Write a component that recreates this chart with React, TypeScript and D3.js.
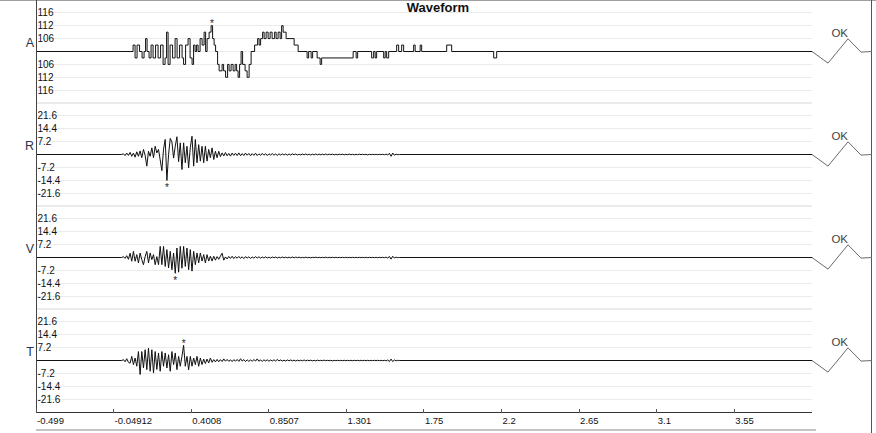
import React from 'react';
import * as d3 from 'd3';

const width = 876;
const height = 433;
const plotLeft = 36;
const plotRight = 812;
const plotTop = 0;
const plotBottom = 413;

const channelNames = ['A', 'R', 'V', 'T'];
const statusLabels = ['OK', 'OK', 'OK', 'OK'];

const xTickLabels = ['-0.499', '-0.04912', '0.4008', '0.8507', '1.301', '1.75', '2.2', '2.65', '3.1', '3.55'];
const xDomain = [-0.499, 4.0002];

// A channel is quantized, levels in half-gridline steps
const aDomain = [-8, 8];
const aTickValues = [6, 4, 2, 0, -2, -4, -6];
const aTickLabels = ['116', '112', '106', '', '106', '112', '116'];

const rvtDomain = [-28.8, 28.8];
const rvtTickValues = [21.6, 14.4, 7.2, 0, -7.2, -14.4, -21.6];
const rvtTickLabels = ['21.6', '14.4', '7.2', '', '-7.2', '-14.4', '-21.6'];

// A: sample index where the level changes, and the new level
const aSampleDt = 0.0029;
const aChangeIdx = [
  22, 26, 30, 35, 40, 44, 47, 50, 54, 58,
  62, 67, 72, 77, 82, 86, 89, 92, 96, 101,
  106, 110, 115, 120, 123, 127, 132, 136, 140, 143,
  146, 149, 152, 156, 160, 164, 167, 170, 174,
  178, 181, 184, 187, 191, 194, 200, 203, 207, 211,
  214, 218, 222, 226, 229, 232, 235, 238, 241, 246,
  250, 254, 258, 265, 271, 274, 277, 281, 284, 288,
  292, 296, 300, 305, 308, 312, 316, 319, 322, 328,
  344, 352, 370, 373, 378, 381, 390, 396, 399, 462,
  468, 471, 499, 503, 506, 509, 523, 526, 529, 533,
  549, 553, 559, 563, 583, 586, 596, 599, 649, 659,
  743, 749,
];
const aLevels = [
  1, -1, 1, 0, -1, 0, 2, 0, -1, 1,
  -1, 1, -1, 1, -2, -1, 3, -2, 1, -1,
  2, -1, 1, -1, -2, 1, 2, -1, -2, 1,
  0, 1, 0, 2, 1, 3, 0, 2, 3,
  4, 2, 1, 0, -2, -3, -2, -3, -4, -2,
  -3, -2, -3, -2, -3, -4, -2, 0, -2, -3,
  -4, -2, 0, 1, 2, 1, 2, 3, 2, 3,
  2, 3, 2, 3, 2, 3, 2, 4, 3, 2,
  1, 0, -1, 0, -1, 0, -1, -2, -1, 0,
  -1, 0, -1, 0, -1, 0, -1, 0, -1, 0,
  1, 0, 1, 0, 1, 0, 1, 0, 1, 0,
  -1, 0,
];

// R, V, T: evenly sampled
const rvtStart = -0.002;
const rvtStep = 0.0097;
const rValues = [
  0, 0.4, -0.6, 0.8, -0.5, 1.2, -1, 0.8, -1.5, 1.5,
  -1, 2, -1.8, 2.8, -0.5, -6.5, 1.8, -1, 3.7, -1.8,
  4.6, 0.9, 2.8, -3, -9, 3, 8.4, -14.5, 0, 9,
  7, -2, 4.6, 9.9, -4, 6.5, -8.4, 6.5, -4.6, 4.6,
  -7.4, 4, 10.2, -6.5, 8.4, -4.6, 5.5, -3.7, 4.6, -4.6,
  4.6, -3.7, 2.8, -1.8, 3.7, -2.8, 1.8, -1.8, 1.8, -1.2,
  0.9, -0.8, 1.1, -0.7, 0.6, -0.9, 0.8, -0.5, 0.7, -0.6,
  0.9, -0.7, 0.5, -0.6, 0.8, -0.4, 0.6, -0.7, 0.5, -0.5,
  0.7, -0.6, 0.4, -0.5, 0.6, -0.4, 0.5, -0.6, 0.4, -0.3,
  0.5, -0.4, 0.3, -0.5, 0.4, -0.3, 0.4, -0.3, 0.3, -0.4,
  0.3, -0.3, 0.4, -0.2, 0.3, -0.3, 0.2, -0.3, 0.3, -0.2,
  0.3, -0.2, 0.2, -0.3, 0.2, -0.2, 0.3, -0.2, 0.2, -0.2,
  0.2, -0.2, 0.3, -0.2, 0.2, -0.1, 0.2, -0.2, 0.1, -0.2,
  0.2, -0.1, 0.2, -0.2, 0.1, -0.1, 0.2, -0.1, 0.1, -0.2,
  0.1, -0.1, 0.2, -0.1, 0.1, -0.1, 0.1, -0.2, 0.1, -0.1,
  0.1, -0.1, 0.1, -0.1, 0.1, -0.1, 0.1, -0.1, 0.2, -0.3,
  0.7, -1.0, 0.8, -0.4, 0.2, -0.1, 0,
];
const vValues = [
  0, 0.5, -0.5, 1, -1, 2.4, -2.1, 3.4, -2.1, 1.6,
  -3, 2.5, -1.2, -4, 0.5, 3.4, -3, 2.5, -1.2, 1.6,
  -4, 0.5, -4, 6.2, -4, 6.2, -5, 4.4, -5.8, 3.4,
  -6.8, 2.5, -8.8, 5.3, -8.2, 6.2, -6, 6.2, -5, 5.3,
  -6.8, 4.4, -7.6, 3.4, -4, 2.5, -3, 2.5, -2, 1.6,
  -3, 1.6, -2, 0.7, -2, 0.7, -1.5, 0.5, -1, 0.8,
  2.4, -1.5, 0.3, -0.8, 0.6, -0.5, 0.7, -0.6, 0.5, -0.4,
  0.6, -0.5, 0.4, -0.6, 0.5, -0.3, 0.4, -0.5, 0.3, -0.4,
  0.5, -0.3, 0.4, -0.4, 0.3, -0.3, 0.4, -0.3, 0.2, -0.3,
  0.3, -0.2, 0.3, -0.3, 0.2, -0.2, 0.3, -0.2, 0.2, -0.2,
  0.2, -0.2, 0.3, -0.2, 0.2, -0.1, 0.2, -0.2, 0.1, -0.2,
  0.2, -0.1, 0.1, -0.2, 0.1, -0.1, 0.2, -0.1, 0.1, -0.1,
  0.1, -0.1, 0.2, -0.1, 0.1, -0.1, 0.1, -0.1, 0.1, -0.1,
  0.1, -0.1, 0.1, -0.1, 0.1, -0.1, 0.1, -0.1, 0.1, -0.1,
  0.1, -0.1, 0.1, -0.1, 0.1, -0.1, 0.1, -0.1, 0.1, -0.1,
  0.1, -0.1, 0.1, -0.1, 0.1, -0.1, 0.1, -0.1, 0.2, -0.3,
  0.6, -0.9, 0.7, -0.3, 0.2, -0.1, 0,
];
const tValues = [
  0, 0.5, -0.7, 1, -1, -1.5, 2.3, -2.3, 1.4, -3.2,
  5, -7.8, 5, -4.2, 6, -5.1, 6.9, -6, 6, -7,
  5, -5, 4.2, -6, 5, -3.2, 4.2, -4.2, 3.2, -6,
  5, -2.3, 4.2, -5.1, 2.3, -3.2, 2.3, 8.5, -3.2, 2.3,
  -5.2, 2.3, -3.2, 1.4, -2.3, 2.3, -3.2, 1.4, -2.3, 0.8,
  -1.7, 0.8, -1.4, 1.4, -1, 0.5, -0.8, 0.6, -0.7, 0.5,
  -0.6, 0.9, -0.4, 0.6, -0.5, 0.4, -0.6, 0.5, -0.4, 0.6,
  -0.5, 1.0, -0.3, 0.5, -0.6, 0.4, -0.5, 0.3, -0.4, 0.5,
  -0.3, 0.9, -0.4, 0.3, -0.5, 0.4, -0.3, 0.4, -0.4, 0.3,
  -0.3, 0.4, -0.3, 0.6, -0.2, 0.3, -0.3, 0.2, -0.3, 0.3,
  -0.2, 0.3, -0.2, 0.2, -0.3, 0.2, -0.2, 0.2, -0.2, 0.3,
  -0.2, 0.2, -0.1, 0.2, -0.2, 0.1, -0.2, 0.2, -0.1, 0.1,
  -0.1, 0.2, -0.1, 0.1, -0.1, 0.1, -0.2, 0.1, -0.1, 0.1,
  -0.1, 0.1, -0.1, 0.1, -0.1, 0.1, -0.1, 0.1, -0.1, 0.1,
  -0.1, 0.1, -0.1, 0.1, -0.1, 0.1, -0.1, 0.1, -0.1, 0.1,
  -0.1, 0.1, -0.1, 0.1, -0.1, 0.1, -0.1, 0.1, -0.2, 0.3,
  -0.6, 0.8, -0.6, 0.3, -0.2, 0.1, 0,
];

// peak markers (*) per channel
const starTimes = [0.5206, 0.2599, 0.3084, 0.3569];
const starValues = [4, -14.5, -8.8, 8.5];

// shape of the status glyph drawn right of the plot (px offsets from baseline end)
const okGlyph = [[0, 0], [16, 11.6], [36, -12.7], [49, 0.6], [60, 0]];

const font = '"Liberation Sans", Arial, sans-serif';

const crisp = (v: number) => Math.round(v - 0.5) + 0.5;

export default function App() {
  const x = d3.scaleLinear(xDomain, [plotLeft, plotRight]);
  const panelH = (plotBottom - plotTop) / channelNames.length;

  const panels = channelNames.map((name, i) => {
    const isA = i === 0;
    const domain = isA ? aDomain : rvtDomain;
    const mid = Math.round(plotTop + i * panelH + panelH / 2) - 0.5;
    const y = d3.scaleLinear(domain, [mid + panelH / 2, mid - panelH / 2]);
    const tickValues = isA ? aTickValues : rvtTickValues;
    const tickLabels = isA ? aTickLabels : rvtTickLabels;
    const grid = d3.range(9).map(k => domain[0] + (k * (domain[1] - domain[0])) / 8);

    let path: string | null;
    if (isA) {
      const pts: [number, number][] = [[xDomain[0], 0]];
      aChangeIdx.forEach((k, j) => pts.push([k * aSampleDt, aLevels[j]]));
      pts.push([xDomain[1], aLevels[aLevels.length - 1]]);
      path = d3.line<[number, number]>()
        .x(d => x(d[0]))
        .y(d => y(d[1]))
        .curve(d3.curveStepAfter)(pts);
    } else {
      const vals = [rValues, vValues, tValues][i - 1];
      const pts: [number, number][] = [[xDomain[0], 0]];
      vals.forEach((v, j) => pts.push([rvtStart + j * rvtStep, v]));
      pts.push([xDomain[1], 0]);
      path = d3.line<[number, number]>()
        .x(d => x(d[0]))
        .y(d => y(d[1]))(pts);
    }
    return { name, i, y, mid, tickValues, tickLabels, grid, path };
  });

  const glyphLine = d3.line<number[]>().x(d => d[0]).y(d => d[1]);

  return (
    <svg
      width={width}
      height={height}
      style={{ position: 'absolute', left: 0, top: 0, background: '#fff' }}
      fontFamily={font}
    >
      {/* frame */}
      <line x1={0} x2={width} y1={0.5} y2={0.5} stroke="#a0a0a0" />
      <line x1={width - 4.5} x2={width - 4.5} y1={0} y2={height} stroke="#555" />

      {panels.map(p => (
        <g key={p.name}>
          {p.grid.map((g, k) => (
            <line key={k} x1={plotLeft} x2={plotRight} y1={crisp(p.y(g))} y2={crisp(p.y(g))} stroke="#ebebeb" />
          ))}
          {p.tickValues.map((v, k) => (
            <text key={k} x={plotLeft + 1.5} y={p.y(v) + 3.5} fontSize={10} fill="#111">
              {p.tickLabels[k]}
            </text>
          ))}
          <text x={34} y={p.mid - 4.5} fontSize={12.5} fill="#263450" textAnchor="end">
            {p.name}
          </text>
          <path d={p.path ?? ''} fill="none" stroke="#111" strokeWidth={1} />
          <text
            x={x(starTimes[p.i])}
            y={p.y(starValues[p.i]) + (starValues[p.i] > 0 ? 1.7 : 10.7)}
            fontSize={10}
            textAnchor="middle"
            fill="#222"
          >
            *
          </text>
          <path
            d={glyphLine(okGlyph.map(d => [plotRight + d[0], p.mid + d[1]])) ?? ''}
            fill="none"
            stroke="#6a6a6a"
          />
          <text x={848} y={p.mid - 15} fontSize={11.5} fill="#444" textAnchor="end">
            {statusLabels[p.i]}
          </text>
        </g>
      ))}

      {/* left axis line */}
      <line x1={plotLeft + 0.5} x2={plotLeft + 0.5} y1={0} y2={plotBottom} stroke="#444" />

      {/* bottom axis */}
      <line x1={plotLeft} x2={plotRight} y1={plotBottom - 0.5} y2={plotBottom - 0.5} stroke="#333" />
      {xTickLabels.map(l => {
        const tx = crisp(x(+l));
        return (
          <g key={l}>
            <line x1={tx} x2={tx} y1={plotBottom - 4} y2={plotBottom} stroke="#555" />
            <text x={x(+l) + 1} y={plotBottom + 10.5} fontSize={9.5} fill="#111">
              {l}
            </text>
          </g>
        );
      })}
      <line x1={plotLeft} x2={plotRight + 4} y1={430} y2={430} stroke="#c4c4c4" strokeWidth={2} />

      <text x={438} y={12} fontSize={13} fontWeight="bold" textAnchor="middle" fill="#111">
        Waveform
      </text>
    </svg>
  );
}
